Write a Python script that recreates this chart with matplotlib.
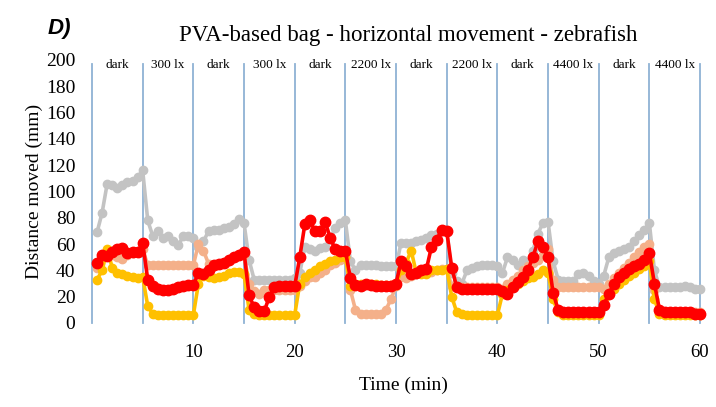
import numpy as np
import matplotlib
matplotlib.use("Agg")
import matplotlib.pyplot as plt

# time points (min), every 0.5 min
time_min = np.arange(1, 121) * 0.5

gray = [69, 84, 106, 105, 103, 105, 107, 108, 111, 116,
        78, 66, 70, 65, 66, 62, 59, 66, 66, 65,
        58, 62, 70, 71, 71, 72, 73, 75, 79, 76,
        48, 33, 33, 33, 33, 33, 33, 33, 33, 34,
        38, 58, 56, 55, 57, 58, 64, 72, 76, 78,
        47, 40, 44, 44, 44, 44, 43, 43, 43, 43,
        61, 61, 61, 62, 63, 65, 67, 68, 70, 70,
        38, 32, 30, 40, 42, 43, 44, 44, 44, 43,
        38, 50, 48, 44, 48, 42, 55, 68, 76, 77,
        47, 33, 32, 32, 32, 37, 38, 36, 32, 30,
        36, 50, 53, 55, 56, 58, 62, 67, 71, 76,
        40, 27, 27, 27, 27, 27, 28, 27, 26, 26]

salmon = [42, 50, 55, 52, 50, 49, 52, 53, 54, 56,
          44, 44, 44, 44, 44, 44, 44, 44, 44, 44,
          60, 55, 45, 43, 45, 46, 48, 50, 52, 52,
          30, 24, 22, 25, 25, 25, 25, 25, 25, 25,
          28, 32, 35, 35, 38, 40, 44, 46, 48, 50,
          25, 10, 7, 7, 7, 7, 7, 10, 18, 28,
          35, 34, 36, 37, 38, 38, 39, 40, 41, 41,
          28, 27, 27, 27, 27, 27, 27, 27, 27, 27,
          26, 30, 33, 36, 40, 43, 46, 48, 52, 56,
          33, 27, 27, 27, 27, 27, 27, 27, 27, 27,
          26, 30, 34, 38, 42, 46, 50, 54, 58, 60,
          25, 10, 8, 8, 8, 8, 8, 8, 8, 8]

yellow = [33, 40, 56, 42, 38, 37, 36, 35, 34, 35,
          13, 7, 6, 6, 6, 6, 6, 6, 6, 6,
          30, 36, 35, 34, 35, 36, 38, 39, 39, 37,
          10, 7, 6, 6, 6, 6, 6, 6, 6, 6,
          30, 35, 38, 40, 43, 45, 47, 48, 50, 50,
          28, 30, 30, 30, 30, 30, 29, 29, 29, 29,
          40, 46, 55, 38, 37, 37, 40, 40, 40, 41,
          20, 8, 7, 6, 6, 6, 6, 6, 6, 6,
          22, 25, 28, 30, 32, 34, 35, 37, 40, 38,
          18, 8, 6, 6, 6, 6, 6, 6, 6, 6,
          18, 22, 26, 30, 33, 36, 38, 41, 43, 47,
          18, 7, 6, 6, 6, 6, 6, 6, 6, 6]

red = [46, 52, 51, 54, 56, 57, 53, 54, 54, 61,
       33, 28, 26, 25, 25, 26, 27, 28, 29, 29,
       38, 37, 40, 44, 45, 46, 48, 50, 52, 54,
       21, 12, 9, 9, 20, 27, 28, 28, 28, 28,
       50, 75, 78, 70, 70, 77, 65, 56, 55, 55,
       34, 29, 28, 30, 29, 28, 28, 28, 28, 30,
       47, 43, 37, 38, 40, 41, 58, 63, 71, 70,
       42, 27, 26, 26, 26, 26, 26, 26, 26, 26,
       24, 22, 27, 31, 35, 40, 50, 62, 58, 50,
       23, 10, 8, 8, 8, 8, 8, 8, 8, 8,
       14, 22, 30, 35, 38, 41, 43, 45, 48, 53,
       30, 10, 8, 8, 8, 8, 8, 8, 7, 7]

phase_bounds = [0, 5, 10, 15, 20, 25, 30, 35, 40, 45, 50, 55, 60]
phase_labels = ["dark", "300 lx", "dark", "300 lx", "dark", "2200 lx",
                "dark", "2200 lx", "dark", "4400 lx", "dark", "4400 lx"]

x_ticks = [10, 20, 30, 40, 50, 60]
y_ticks = list(range(0, 201, 20))

serif = ["Liberation Serif", "DejaVu Serif"]

fig = plt.figure(figsize=(7.16, 4.07), dpi=100)
ax = fig.add_axes([0.1285, 0.2064, 0.8492, 0.6462])

for b in phase_bounds:
    ax.plot([b, b], [0, 197], color="#8FB2D4", lw=1.3, zorder=1, clip_on=False)

series = [(gray, "#C3C3C3", 6), (salmon, "#F4B08A", 6),
          (yellow, "#FFC000", 6), (red, "#FF0000", 7.5)]
for vals, col, ms in series:
    ax.plot(time_min, vals, color=col, lw=2.6, marker="o", ms=ms,
            mec=col, mfc=col, zorder=3, clip_on=False)

for i, lab in enumerate(phase_labels):
    c = (phase_bounds[i] + phase_bounds[i + 1]) / 2
    ax.text(c, 196, lab, ha="center", va="center", fontsize=9.5,
            family=serif, zorder=4)

ax.set_xlim(0, 60)
ax.set_ylim(0, 200)
ax.set_xticks(x_ticks)
ax.set_yticks(y_ticks)
ax.tick_params(axis="both", length=0)
ax.tick_params(axis="y", pad=12, labelsize=14)
ax.tick_params(axis="x", pad=15, labelsize=13.5)
for lab in ax.get_xticklabels() + ax.get_yticklabels():
    lab.set_family(serif)
for s in ax.spines.values():
    s.set_visible(False)

ax.set_xlabel("Time (min)", fontsize=14, family=serif)
ax.xaxis.set_label_coords(0.512, -0.205)
ax.set_ylabel("Distance moved (mm)", fontsize=14, family=serif, labelpad=2)

fig.text(0.57, 0.912, "PVA-based bag - horizontal movement - zebrafish",
         ha="center", va="center", fontsize=16.5, family=serif)
fig.text(0.066, 0.93, "D)", ha="left", va="center", fontsize=16,
         fontweight="bold", fontstyle="italic", family=["Liberation Sans", "DejaVu Sans"])

fig.savefig("out.png", dpi=100)
